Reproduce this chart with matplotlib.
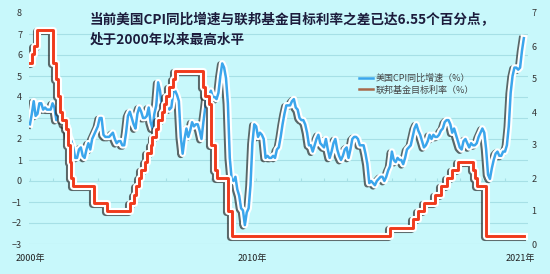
import numpy as np
import matplotlib
matplotlib.use("Agg")
import matplotlib.pyplot as plt
import matplotlib.patheffects as pe
from matplotlib.lines import Line2D

plt.rcParams['font.family'] = ['Noto Sans CJK SC', 'DejaVu Sans']

# US CPI YoY (%), monthly, Jan 2000 - Nov 2021
cpi_yoy = [
    2.7, 3.2, 3.8, 3.1, 3.2, 3.7, 3.7, 3.4, 3.5, 3.4, 3.4, 3.4,   # 2000
    3.7, 3.5, 2.9, 3.3, 3.6, 3.2, 2.7, 2.7, 2.6, 2.1, 1.9, 1.6,   # 2001
    1.1, 1.1, 1.5, 1.6, 1.2, 1.1, 1.5, 1.8, 1.5, 2.0, 2.2, 2.4,   # 2002
    2.6, 3.0, 3.0, 2.2, 2.1, 2.1, 2.1, 2.2, 2.3, 2.0, 1.8, 1.9,   # 2003
    1.9, 1.7, 1.7, 2.3, 3.1, 3.3, 3.0, 2.7, 2.5, 3.2, 3.5, 3.3,   # 2004
    3.0, 3.0, 3.1, 3.5, 2.8, 2.5, 3.2, 3.6, 4.7, 4.3, 3.5, 3.4,   # 2005
    4.0, 3.6, 3.4, 3.5, 4.2, 4.3, 4.1, 3.8, 2.1, 1.3, 2.0, 2.5,   # 2006
    2.1, 2.4, 2.8, 2.6, 2.7, 2.7, 2.4, 2.0, 2.8, 3.5, 4.3, 4.1,   # 2007
    4.3, 4.0, 4.0, 3.9, 4.2, 5.0, 5.6, 5.4, 4.9, 3.7, 1.1, 0.1,   # 2008
    0.0, 0.2, -0.4, -0.7, -1.3, -1.4, -2.1, -1.5, -1.3, -0.2, 1.8, 2.7,  # 2009
    2.6, 2.1, 2.3, 2.2, 2.0, 1.1, 1.2, 1.1, 1.1, 1.2, 1.1, 1.5,   # 2010
    1.6, 2.1, 2.7, 3.2, 3.6, 3.6, 3.6, 3.8, 3.9, 3.5, 3.4, 3.0,   # 2011
    2.9, 2.9, 2.7, 2.3, 1.7, 1.7, 1.4, 1.7, 2.0, 2.2, 1.8, 1.7,   # 2012
    1.6, 2.0, 1.5, 1.1, 1.4, 1.8, 2.0, 1.5, 1.2, 1.0, 1.2, 1.5,   # 2013
    1.6, 1.1, 1.5, 2.0, 2.1, 2.1, 2.0, 1.7, 1.7, 1.7, 1.3, 0.8,   # 2014
    -0.1, 0.0, -0.1, -0.2, 0.0, 0.1, 0.2, 0.2, 0.0, 0.2, 0.5, 0.7,  # 2015
    1.4, 1.0, 0.9, 1.1, 1.0, 1.0, 0.8, 1.1, 1.5, 1.6, 1.7, 2.1,   # 2016
    2.5, 2.7, 2.4, 2.2, 1.9, 1.6, 1.7, 1.9, 2.2, 2.0, 2.2, 2.1,   # 2017
    2.1, 2.2, 2.4, 2.5, 2.8, 2.9, 2.9, 2.7, 2.3, 2.5, 2.2, 1.9,   # 2018
    1.6, 1.5, 1.9, 2.0, 1.8, 1.6, 1.8, 1.7, 1.7, 1.8, 2.1, 2.3,   # 2019
    2.5, 2.3, 1.5, 0.3, 0.1, 0.6, 1.0, 1.3, 1.4, 1.2, 1.2, 1.4,   # 2020
    1.4, 1.7, 2.6, 4.2, 5.0, 5.4, 5.4, 5.3, 5.4, 6.2, 6.8,        # 2021
]

# fed funds target rate (%), monthly
fed_rate = (
    [5.5, 5.75, 6.0, 6.0] + [6.5] * 8 +                                   # 2000
    [5.5, 5.5, 5.0, 4.5, 4.0, 3.75, 3.75, 3.5, 3.0, 2.5, 2.0, 1.75] +     # 2001
    [1.75] * 10 + [1.25, 1.25] +                                          # 2002
    [1.25] * 5 + [1.0] * 7 +                                              # 2003
    [1.0] * 5 + [1.25, 1.25, 1.5, 1.75, 1.75, 2.0, 2.25] +                # 2004
    [2.25, 2.5, 2.75, 2.75, 3.0, 3.25, 3.25, 3.5, 3.75, 3.75, 4.0, 4.25] +  # 2005
    [4.5, 4.5, 4.75, 4.75, 5.0] + [5.25] * 7 +                            # 2006
    [5.25] * 8 + [4.75, 4.5, 4.5, 4.25] +                                 # 2007
    [3.0, 3.0, 2.25] + [2.0] * 6 + [1.0, 1.0, 0.25] +                     # 2008
    [0.25] * 83 + [0.5] +                                                 # 2009-2015
    [0.5] * 11 + [0.75] +                                                 # 2016
    [0.75, 0.75, 1.0, 1.0, 1.0] + [1.25] * 6 + [1.5] +                    # 2017
    [1.5, 1.5, 1.75, 1.75, 1.75, 2.0, 2.0, 2.0, 2.25, 2.25, 2.25, 2.5] +  # 2018
    [2.5] * 7 + [2.25, 2.0, 1.75, 1.75, 1.75] +                           # 2019
    [1.75, 1.75] + [0.25] * 10 +                                          # 2020
    [0.25] * 11                                                           # 2021
)

months = np.arange(len(cpi_yoy))
year_ticks = np.arange(0, len(cpi_yoy), 12)
xtick_pos = [0, 118, 260]
xtick_labels = ['2000年', '2010年', '2021年']

title = '当前美国CPI同比增速与联邦基金目标利率之差已达6.55个百分点，\n处于2000年以来最高水平'
label_cpi = '美国CPI同比增速（%）'
label_fed = '联邦基金目标利率（%）'

bg = '#c8f8fb'
grid_c = '#a6e0e6'
blue = '#3ba6ec'
red = '#f03a1c'

fig = plt.figure(figsize=(5.5, 2.74), dpi=100, facecolor=bg)
ax = fig.add_axes([29/550, 1-244/274, 499/550, 231/274])
ax.set_facecolor('none')
ax2 = ax.twinx()

for s in list(ax.spines.values()) + list(ax2.spines.values()):
    s.set_visible(False)

ax.set_xlim(-0.5, len(cpi_yoy) + 1.2)
ax.set_ylim(-3, 8)
ax2.set_ylim(0, 7)

for v in range(-3, 8):
    ax.axhline(v, color=grid_c, lw=0.8, zorder=0)
ax.vlines(year_ticks, 0, 0.15, color=grid_c, lw=0.8, zorder=0)

def fx(lw):
    # dark thin shadow + white halo, like the original
    return [pe.Stroke(offset=(-1.4, -0.8), linewidth=lw + 3.0, foreground='#2a2a2a', alpha=0.7),
            pe.Stroke(linewidth=lw + 3.0, foreground='white'),
            pe.Normal()]

ax.plot(months, cpi_yoy, color=blue, lw=1.8, zorder=3, path_effects=fx(1.8))
ax2.plot(np.arange(len(fed_rate)), fed_rate, color=red, lw=2.1, zorder=4,
         drawstyle='steps-post', path_effects=fx(2.1))

ax.set_yticks(range(-3, 9))
ax2.set_yticks(range(0, 8))
ax.tick_params(axis='y', length=0, pad=5, labelsize=6.5, labelcolor='#333333')
ax2.tick_params(axis='y', length=0, pad=2.5, labelsize=6.5, labelcolor='#333333')
ax.set_xticks(xtick_pos)
ax.set_xticklabels(xtick_labels)
ax.tick_params(axis='x', length=0, pad=7, labelsize=6.5, labelcolor='#222222')

fig.text(90/550, 1-13/274, title, ha='left', va='top', fontsize=9.8,
         fontweight='bold', color='#1c1c3c', linespacing=1.55)

handles = [Line2D([], [], color=blue, lw=1.8),
           Line2D([], [], color='#a8694a', lw=1.8)]
leg = ax.legend(handles, [label_cpi, label_fed], loc='upper left',
                bbox_to_anchor=(354/550, 1-69/274), bbox_transform=fig.transFigure,
                frameon=False, fontsize=6.5, handlelength=1.6, handletextpad=0.3,
                labelspacing=0.3, borderpad=0)
for t in leg.get_texts():
    t.set_color('#444444')

fig.savefig('out.png', dpi=100, facecolor=bg)
